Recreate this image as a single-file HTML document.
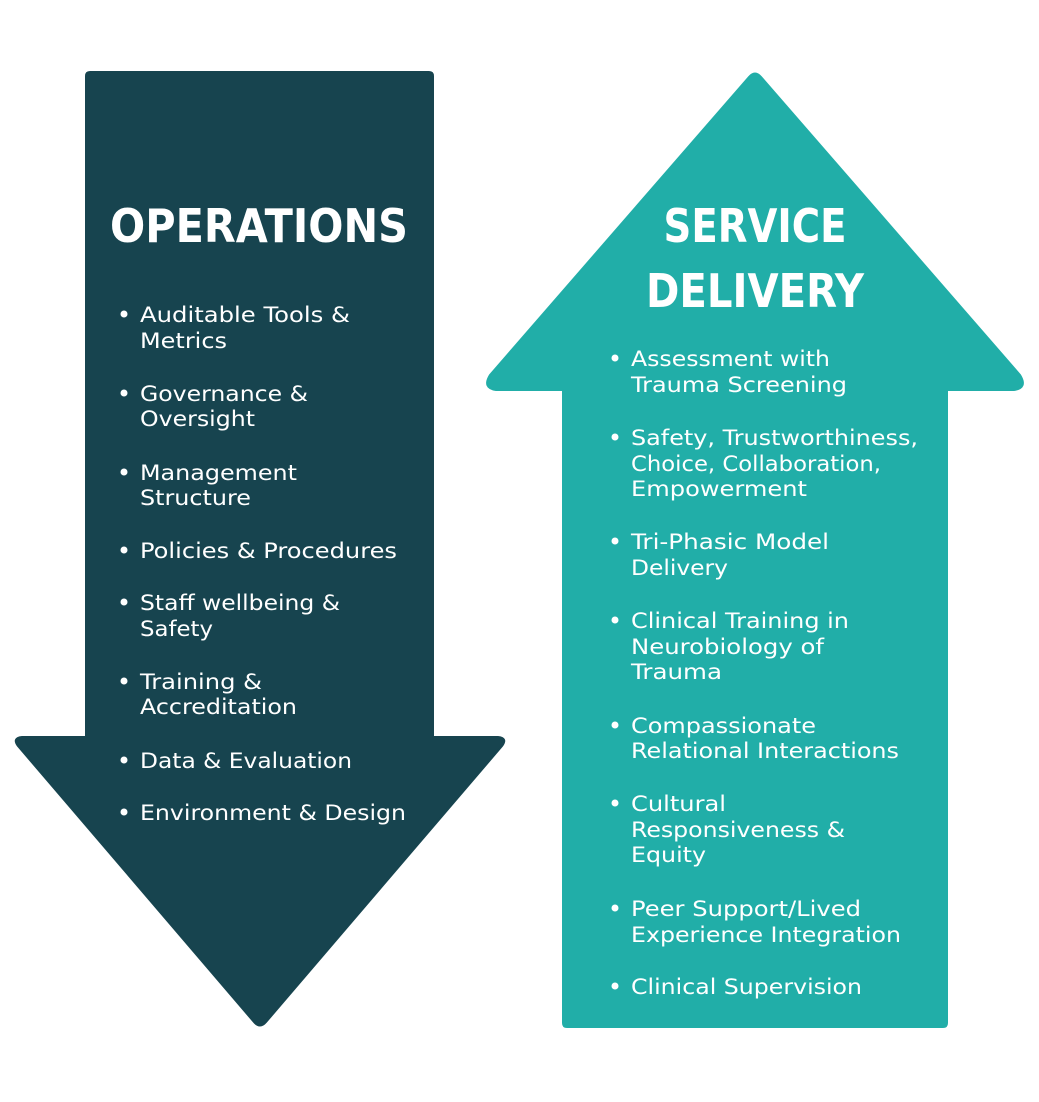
<!DOCTYPE html>
<html><head><meta charset="utf-8"><style>
html,body{margin:0;padding:0;background:#fff;}
svg{display:block}
text{font-family:"DejaVu Sans","Liberation Sans",sans-serif;fill:#fff}
.b{font-size:21px}
.h{font-size:46px;font-weight:bold}
</style></head><body>
<svg width="1039" height="1102" viewBox="0 0 1039 1102" xmlns="http://www.w3.org/2000/svg">
<path d="M90,72 L429,72 Q433,72 433,76 L433,737 L498,737 Q508,738 502,746 L266,1022 Q260,1029 254,1022 L18,746 Q12,738 22,737 L86,737 L86,76 Q86,72 90,72 Z" fill="#17444f" stroke="#17444f" stroke-width="2" stroke-linejoin="round"/>
<path d="M749,77 Q755,70 761,77 L1020,375 Q1028,388 1014,390 L947,390 L947,1023 Q947,1027 943,1027 L567,1027 Q563,1027 563,1023 L563,390 L496,390 Q482,388 490,375 Z" fill="#21aea8" stroke="#21aea8" stroke-width="2" stroke-linejoin="round"/>

<text class="h" x="259" y="242" text-anchor="middle" textLength="298" lengthAdjust="spacingAndGlyphs">OPERATIONS</text>
<text class="h" x="755" y="242" text-anchor="middle" textLength="183" lengthAdjust="spacingAndGlyphs">SERVICE</text>
<text class="h" x="755" y="307" text-anchor="middle" textLength="218" lengthAdjust="spacingAndGlyphs">DELIVERY</text>

<g class="b">
<circle cx="124" cy="314" r="3.5" fill="#fff"/><text x="140" y="322" textLength="210" lengthAdjust="spacingAndGlyphs">Auditable Tools &amp;</text><text x="140" y="348" textLength="87" lengthAdjust="spacingAndGlyphs">Metrics</text>
<circle cx="124" cy="393" r="3.5" fill="#fff"/><text x="140" y="401" textLength="168" lengthAdjust="spacingAndGlyphs">Governance &amp;</text><text x="140" y="426" textLength="115" lengthAdjust="spacingAndGlyphs">Oversight</text>
<circle cx="124" cy="472" r="3.5" fill="#fff"/><text x="140" y="480" textLength="157" lengthAdjust="spacingAndGlyphs">Management</text><text x="140" y="505" textLength="111" lengthAdjust="spacingAndGlyphs">Structure</text>
<circle cx="124" cy="550" r="3.5" fill="#fff"/><text x="140" y="558" textLength="257" lengthAdjust="spacingAndGlyphs">Policies &amp; Procedures</text>
<circle cx="124" cy="602" r="3.5" fill="#fff"/><text x="140" y="610" textLength="200" lengthAdjust="spacingAndGlyphs">Staff wellbeing &amp;</text><text x="140" y="636" textLength="73" lengthAdjust="spacingAndGlyphs">Safety</text>
<circle cx="124" cy="681" r="3.5" fill="#fff"/><text x="140" y="689" textLength="122" lengthAdjust="spacingAndGlyphs">Training &amp;</text><text x="140" y="714" textLength="157" lengthAdjust="spacingAndGlyphs">Accreditation</text>
<circle cx="124" cy="760" r="3.5" fill="#fff"/><text x="140" y="768" textLength="212" lengthAdjust="spacingAndGlyphs">Data &amp; Evaluation</text>
<circle cx="124" cy="812" r="3.5" fill="#fff"/><text x="140" y="820" textLength="266" lengthAdjust="spacingAndGlyphs">Environment &amp; Design</text>

<circle cx="615" cy="358" r="3.5" fill="#fff"/><text x="631" y="366" textLength="199" lengthAdjust="spacingAndGlyphs">Assessment with</text><text x="631" y="392" textLength="216" lengthAdjust="spacingAndGlyphs">Trauma Screening</text>
<circle cx="615" cy="437" r="3.5" fill="#fff"/><text x="631" y="445" textLength="287" lengthAdjust="spacingAndGlyphs">Safety, Trustworthiness,</text><text x="631" y="471" textLength="250" lengthAdjust="spacingAndGlyphs">Choice, Collaboration,</text><text x="631" y="496" textLength="176" lengthAdjust="spacingAndGlyphs">Empowerment</text>
<circle cx="615" cy="541" r="3.5" fill="#fff"/><text x="631" y="549" textLength="198" lengthAdjust="spacingAndGlyphs">Tri-Phasic Model</text><text x="631" y="575" textLength="97" lengthAdjust="spacingAndGlyphs">Delivery</text>
<circle cx="615" cy="620" r="3.5" fill="#fff"/><text x="631" y="628" textLength="218" lengthAdjust="spacingAndGlyphs">Clinical Training in</text><text x="631" y="654" textLength="193" lengthAdjust="spacingAndGlyphs">Neurobiology of</text><text x="631" y="679" textLength="91" lengthAdjust="spacingAndGlyphs">Trauma</text>
<circle cx="615" cy="725" r="3.5" fill="#fff"/><text x="631" y="733" textLength="185" lengthAdjust="spacingAndGlyphs">Compassionate</text><text x="631" y="758" textLength="268" lengthAdjust="spacingAndGlyphs">Relational Interactions</text>
<circle cx="615" cy="803" r="3.5" fill="#fff"/><text x="631" y="811" textLength="95" lengthAdjust="spacingAndGlyphs">Cultural</text><text x="631" y="837" textLength="214" lengthAdjust="spacingAndGlyphs">Responsiveness &amp;</text><text x="631" y="862" textLength="75" lengthAdjust="spacingAndGlyphs">Equity</text>
<circle cx="615" cy="908" r="3.5" fill="#fff"/><text x="631" y="916" textLength="230" lengthAdjust="spacingAndGlyphs">Peer Support/Lived</text><text x="631" y="942" textLength="270" lengthAdjust="spacingAndGlyphs">Experience Integration</text>
<circle cx="615" cy="986" r="3.5" fill="#fff"/><text x="631" y="994" textLength="231" lengthAdjust="spacingAndGlyphs">Clinical Supervision</text>
</g>
</svg>
</body></html>
